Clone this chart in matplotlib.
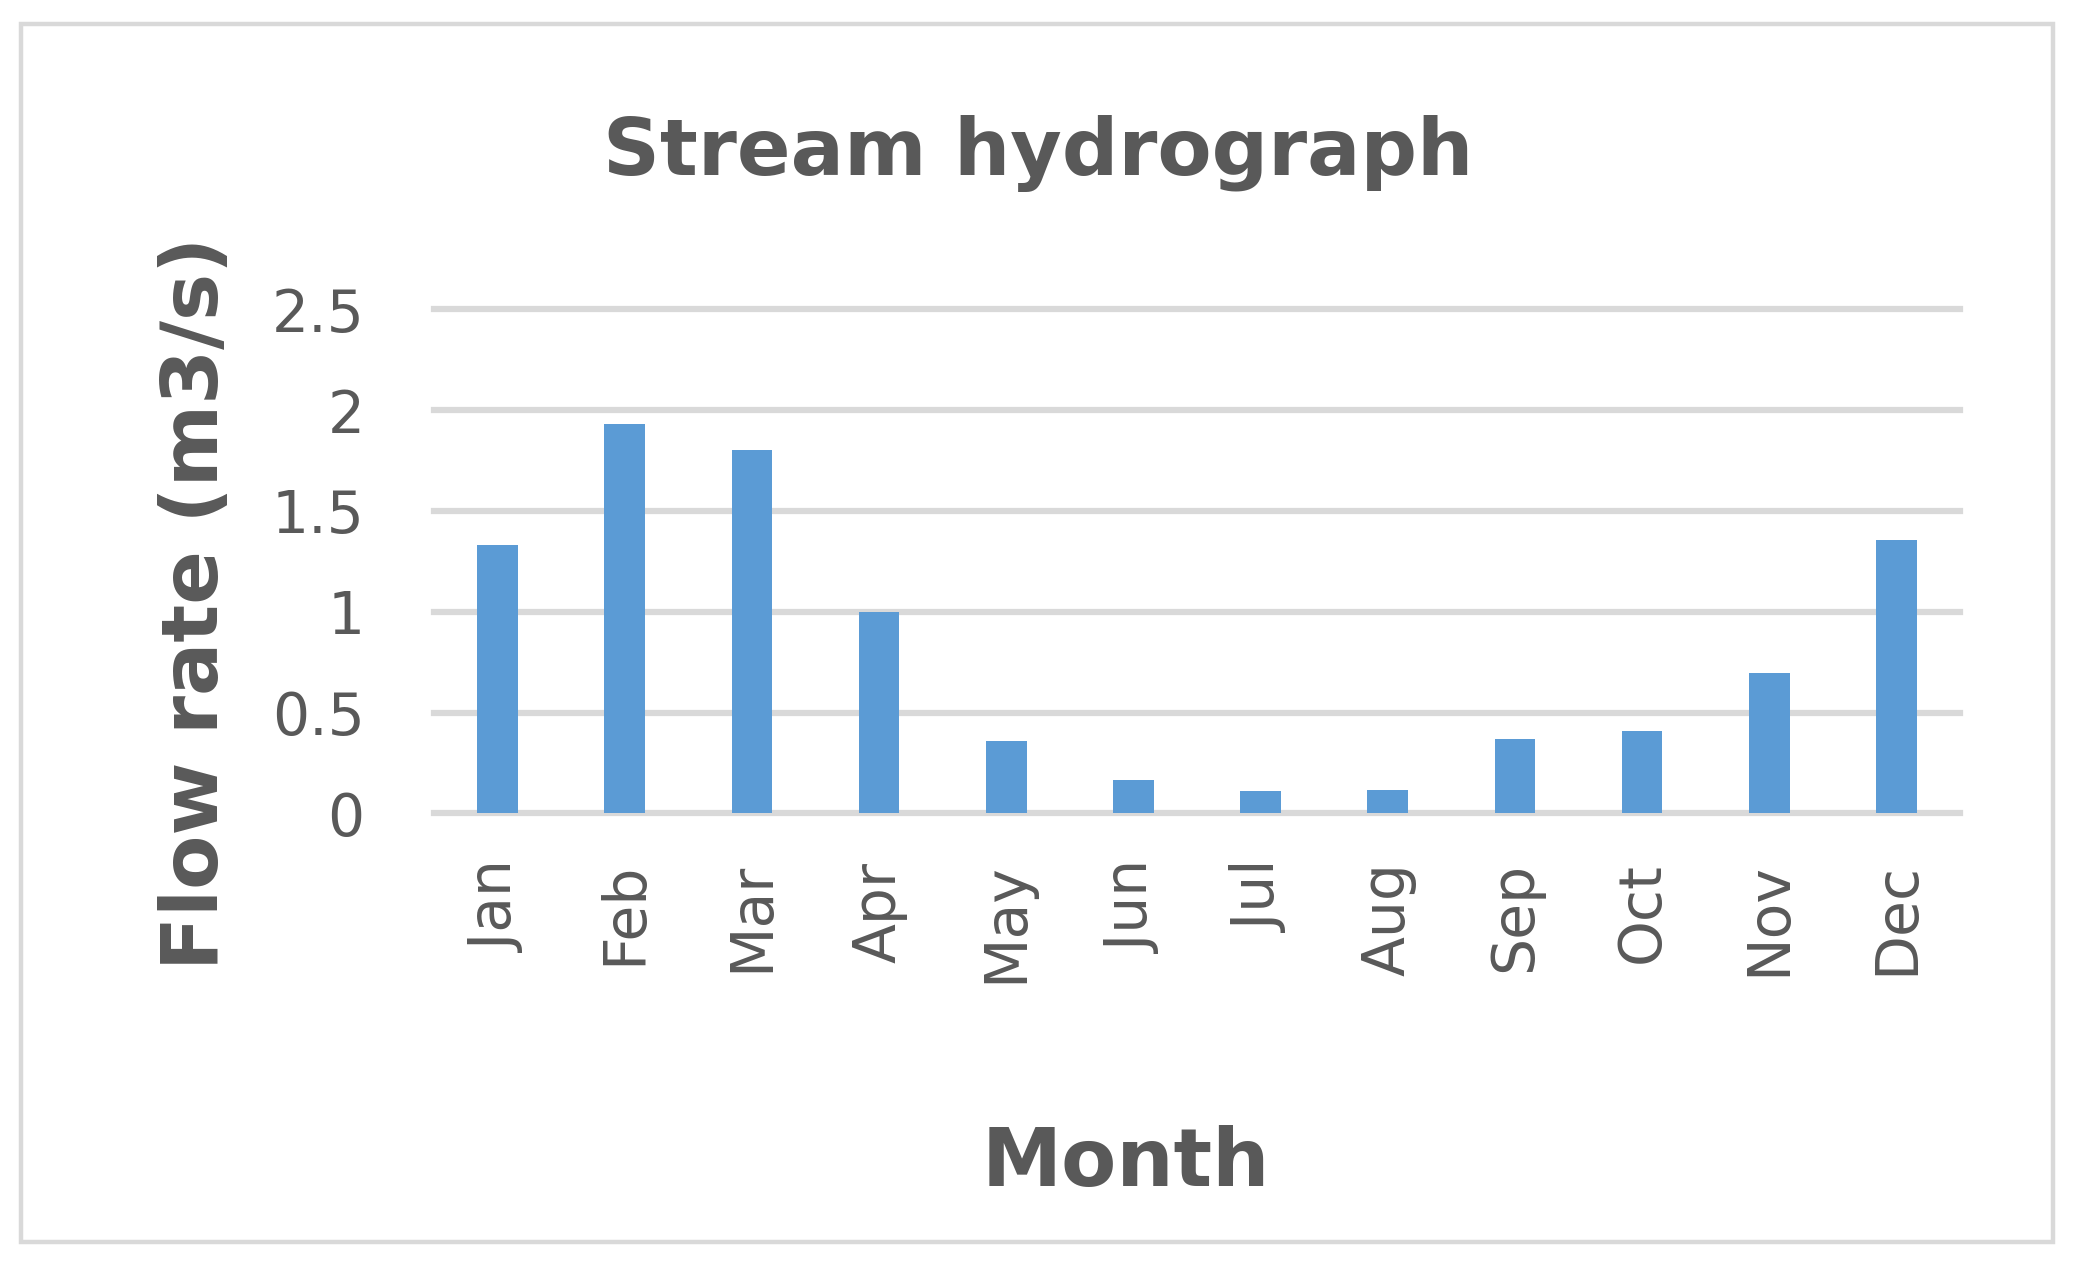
import matplotlib
matplotlib.use("Agg")
import matplotlib.pyplot as plt
from matplotlib.patches import Rectangle

months = ["Jan", "Feb", "Mar", "Apr", "May", "Jun", "Jul", "Aug", "Sep", "Oct", "Nov", "Dec"]
flow = [1.33, 1.93, 1.80, 1.00, 0.36, 0.165, 0.11, 0.115, 0.368, 0.406, 0.694, 1.357]
yticks = [0, 0.5, 1, 1.5, 2, 2.5]
ytick_labels = ["0", "0.5", "1", "1.5", "2", "2.5"]

W, H = 2079, 1268
DPI = 100
TXT = "#595959"
GRID = "#D9D9D9"
BAR = "#5B9BD5"

fig = plt.figure(figsize=(W / DPI, H / DPI), dpi=DPI)
fig.patch.set_facecolor("white")

# outer border
fig.patches.append(Rectangle((21 / W, 1 - 1242 / H), (2053 - 21) / W, (1242 - 24) / H,
                             transform=fig.transFigure, fill=False, edgecolor=GRID,
                             linewidth=3.2, zorder=0))

ax = fig.add_axes([434 / W, 1 - 813.3 / H, (1960 - 434) / W, (813.3 - 309.3) / H])
x = list(range(len(months)))
ax.bar(x, flow, width=0.32, color=BAR, zorder=3)
ax.set_xlim(-0.5, len(months) - 0.5)
ax.set_ylim(0, 2.5)
ax.set_yticks(yticks)
ax.set_yticklabels(ytick_labels)
ax.set_xticks(x)
ax.set_xticklabels(months, rotation=90, va="top", ha="center")
for s in ax.spines.values():
    s.set_visible(False)
ax.tick_params(axis="both", length=0, colors=TXT, labelsize=42)
ax.tick_params(axis="y", pad=50)
ax.tick_params(axis="x", pad=35)
for lab in ax.get_xticklabels() + ax.get_yticklabels():
    lab.set_fontfamily("DejaVu Sans")
ax.yaxis.grid(True, color=GRID, linewidth=4.5, zorder=0)
ax.set_axisbelow(True)
for gl in ax.get_ygridlines():
    gl.set_clip_on(False)

fig.text(1038 / W, 1 - 154 / H, "Stream hydrograph", ha="center", va="center",
         fontsize=57, fontweight="bold", color=TXT, family="DejaVu Sans")
fig.text(196 / W, 1 - 603 / H, "Flow rate (m3/s)", ha="center", va="center", rotation=90,
         fontsize=57, fontweight="bold", color=TXT, family="DejaVu Sans")
fig.text(1126 / W, 1 - 1164 / H, "Month", ha="center", va="center",
         fontsize=58, fontweight="bold", color=TXT, family="DejaVu Sans")

fig.savefig("out.png", dpi=DPI)
